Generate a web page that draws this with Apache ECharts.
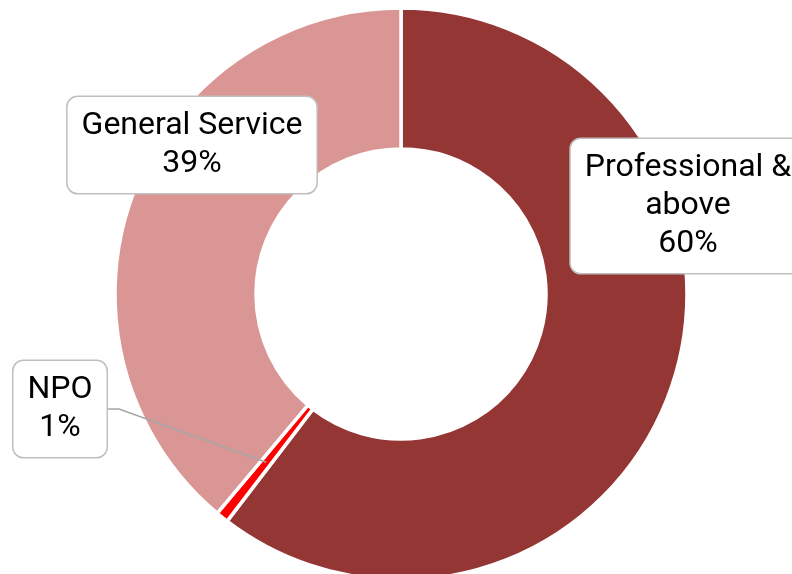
<!DOCTYPE html>
<html>
<head>
<meta charset="utf-8">
<script src="https://cdn.jsdelivr.net/npm/echarts@6/dist/echarts.min.js"></script>
<style>
  html, body {margin: 0; padding: 0; background: #fff;}
  #chart {width: 792px; height: 574px;}
</style>
</head>
<body>
<div id="chart"></div>
<script>
// staff categories, clockwise from 12 o'clock
const categories = ['Professional & above', 'NPO', 'General Service'];
const labelNames = ['Professional &\nabove', 'NPO', 'General Service'];
const shares = [60.4, 0.7, 38.9];
const colors = ['#943634', '#FF0000', '#D99694'];

// where excel put the data label boxes (centre of box)
const labelSpots = [[688, 206], [60, 409], [192, 145]];

const center = [401, 294];
const radius = [145, 286];

const chart = echarts.init(document.getElementById('chart'));

const option = {
  animation: false,
  series: [
    {
      // the donut itself
      type: 'pie',
      center: center,
      radius: radius,
      startAngle: 90,
      clockwise: true,
      silent: true,
      itemStyle: {borderColor: '#fff', borderWidth: 3.5},
      label: {show: false},
      labelLine: {show: false},
      data: categories.map((c, i) => ({name: c, value: shares[i], itemStyle: {color: colors[i]}})),
    },
    {
      // same donut again, invisible, on top -> carries labels so the NPO leader is drawn over the slices
      type: 'pie',
      z: 5,
      center: center,
      radius: radius,
      startAngle: 90,
      clockwise: true,
      silent: true,
      avoidLabelOverlap: false,
      itemStyle: {color: 'rgba(0,0,0,0)', borderWidth: 0},
      label: {
        show: true,
        position: 'outside',
        formatter: p => labelNames[p.dataIndex] + '\n' + Math.round(p.percent) + '%',
        fontFamily: 'Roboto',
        fontSize: 32,
        lineHeight: 38,
        color: '#000',
        align: 'center',
        backgroundColor: '#fff',
        borderColor: '#BFBFBF',
        borderWidth: 1.5,
        borderRadius: 10,
        padding: [10, 14],
      },
      labelLine: {
        lineStyle: {color: '#A6A6A6', width: 1.5},
      },
      labelLayout: function (params) {
        const i = params.dataIndex;
        const spot = labelSpots[i];
        const out = {x: spot[0], y: spot[1], align: 'center', verticalAlign: 'middle'};
        if (i === 1 && params.labelLinePoints) {
          const p0 = params.labelLinePoints[0];
          const k = (radius[0] + radius[1]) / 2 / radius[1];
          const start = [center[0] + (p0[0] - center[0]) * k, center[1] + (p0[1] - center[1]) * k];
          const edge = spot[0] + params.labelRect.width / 2;
          out.labelLinePoints = [start, [edge + 11, spot[1]], [edge, spot[1]]];
        }
        return out;
      },
      data: categories.map((c, i) => ({name: c, value: shares[i], labelLine: {show: i === 1}})),
    },
  ],
};

chart.setOption(option);
</script>
</body>
</html>
